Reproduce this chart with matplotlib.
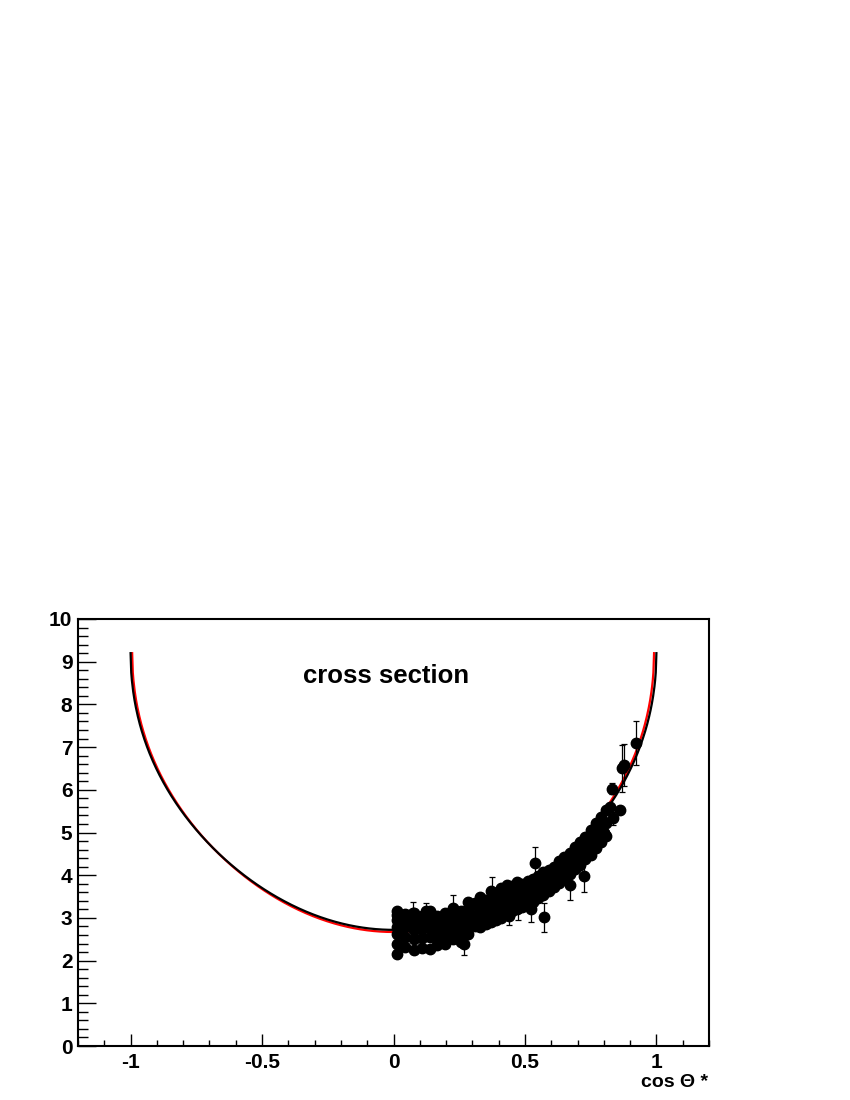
import numpy as np
import matplotlib
matplotlib.use('Agg')
import matplotlib.pyplot as plt
from matplotlib.ticker import MultipleLocator

plt.rcParams['font.family'] = ['Liberation Sans', 'DejaVu Sans']
plt.rcParams['font.weight'] = 'bold'

#theory curves: parameters
top = 9.2          #value at cos = +-1
depth = 6.48       #top minus the value at cos = 0
bulge = 0.6        #small shoulder term
red_shift = -0.05  #red curve sits a bit lower in the middle
red_scale_l = 0.994
red_scale_r = 0.991

#data points: grid part at small cos
grid_x = [0.012, 0.045, 0.078, 0.108, 0.138, 0.165, 0.195, 0.225, 0.255, 0.285]
grid_y = [[3.16, 3.07, 2.95, 2.78, 2.62, 2.38, 2.16],
          [3.10, 2.98, 2.78, 2.55, 2.32],
          [3.12, 2.93, 2.72, 2.50, 2.24],
          [3.05, 2.90, 2.74, 2.53, 2.30],
          [3.17, 2.98, 2.77, 2.55, 2.28],
          [3.05, 2.92, 2.72, 2.52, 2.36],
          [3.12, 2.98, 2.78, 2.58, 2.40],
          [3.24, 3.02, 2.82, 2.62, 2.50],
          [3.15, 3.00, 2.80, 2.62, 2.44],
          [3.38, 3.22, 3.00, 2.85, 2.62]]
grid_err = 0.08

#band part, three rows per column
band_x = [0.31, 0.33, 0.35, 0.37, 0.39, 0.41, 0.43, 0.45, 0.47, 0.49, 0.51, 0.53, 0.55,
          0.57, 0.59, 0.61, 0.63, 0.65, 0.67, 0.69, 0.71, 0.73, 0.75, 0.77, 0.79, 0.81]
band_lo = [2.80, 2.78, 2.86, 2.90, 2.95, 3.00, 3.08, 3.15, 3.20, 3.26, 3.32, 3.38, 3.46,
           3.54, 3.62, 3.72, 3.82, 3.92, 4.02, 4.14, 4.24, 4.38, 4.48, 4.64, 4.78, 4.92]
band_mid = [3.05, 3.10, 3.18, 3.22, 3.26, 3.30, 3.38, 3.43, 3.50, 3.53, 3.58, 3.66, 3.70,
            3.78, 3.86, 3.96, 4.06, 4.16, 4.28, 4.40, 4.50, 4.60, 4.76, 4.90, 5.06, 5.22]
band_hi = [3.36, 3.48, 3.42, 3.64, 3.58, 3.70, 3.78, 3.74, 3.84, 3.80, 3.86, 3.92, 3.98,
           4.08, 4.12, 4.20, 4.33, 4.42, 4.52, 4.66, 4.78, 4.90, 5.06, 5.22, 5.36, 5.52]
#band part, two rows in between the columns above
band2_x = [0.32, 0.34, 0.36, 0.38, 0.40, 0.42, 0.44, 0.46, 0.48, 0.50, 0.52, 0.54, 0.56,
           0.58, 0.60, 0.62, 0.64, 0.66, 0.68, 0.70, 0.72, 0.74, 0.76, 0.78, 0.80]
band2_a = [2.94, 2.97, 3.03, 3.07, 3.12, 3.18, 3.24, 3.30, 3.36, 3.41, 3.47, 3.53, 3.60,
           3.68, 3.78, 3.88, 3.98, 4.10, 4.21, 4.31, 4.43, 4.56, 4.70, 4.85, 5.00]
band2_b = [3.25, 3.30, 3.36, 3.42, 3.47, 3.52, 3.57, 3.63, 3.66, 3.71, 3.76, 3.82, 3.88,
           3.96, 4.04, 4.12, 4.22, 4.32, 4.45, 4.56, 4.66, 4.78, 4.93, 5.08, 5.25]
band_err = 0.08

#points with visible error bars
odd_x = [0.075, 0.122, 0.228, 0.270, 0.375, 0.438, 0.475, 0.524, 0.540, 0.574, 0.673, 0.724,
         0.780, 0.800, 0.825, 0.832, 0.835, 0.863, 0.870, 0.876, 0.924]
odd_y = [3.12, 3.15, 3.20, 2.40, 3.61, 3.05, 3.23, 3.20, 4.29, 3.01, 3.77, 3.97,
         5.20, 4.98, 5.60, 6.03, 5.33, 5.53, 6.50, 6.58, 7.09]
odd_err = [0.26, 0.20, 0.34, 0.27, 0.34, 0.22, 0.28, 0.30, 0.38, 0.34, 0.36, 0.36,
           0.22, 0.15, 0.10, 0.12, 0.15, 0.08, 0.55, 0.50, 0.52]


def curve(x):
	return top - depth*np.sqrt(np.clip(1 - x**2, 0, None)) + bulge*x**2*(1 - x**2)


fig = plt.figure(figsize=(8.5, 11), dpi=100)
ax = fig.add_axes([78/850., 54/1100., (709-78)/850., (1046-619)/1100.])

xs = np.linspace(-1, 1, 801)
#red first, black on top
xr = np.linspace(-red_scale_l, red_scale_r, 801)
xr_scaled = np.where(xr < 0, xr/red_scale_l, xr/red_scale_r)
ax.plot(xr, curve(xr_scaled) + red_shift*(1 - xr_scaled**2), color='red', lw=1.6, zorder=2)
ax.plot(xs, curve(xs), color='black', lw=1.6, zorder=3)

#collect the points
px = []
py = []
pe = []
for i in range(len(grid_x)):
	for v in grid_y[i]:
		px.append(grid_x[i])
		py.append(v)
		pe.append(grid_err)
for i in range(len(band_x)):
	for v in [band_lo[i], band_mid[i], band_hi[i]]:
		px.append(band_x[i])
		py.append(v)
		pe.append(band_err)
for i in range(len(band2_x)):
	for v in [band2_a[i], band2_b[i]]:
		px.append(band2_x[i])
		py.append(v)
		pe.append(band_err)
px = px + odd_x
py = py + odd_y
pe = pe + odd_err

ax.errorbar(px, py, yerr=pe, fmt='o', color='black', ms=7.5, elinewidth=0.9,
			capsize=2.5, capthick=0.9, zorder=4)

ax.text(-0.03, 8.5, 'cross section', fontsize=18.5, fontweight='bold', ha='center', va='baseline')

ax.set_xlim(-1.2, 1.2)
ax.set_ylim(0, 10)
ax.xaxis.set_minor_locator(MultipleLocator(0.1))
ax.yaxis.set_minor_locator(MultipleLocator(0.2))
ax.set_xticks([-1, -0.5, 0, 0.5, 1])
ax.set_xticklabels(['-1', '-0.5', '0', '0.5', '1'])
ax.set_yticks(range(11))
ax.set_yticklabels([str(v) for v in range(11)])

ax.tick_params(which='both', direction='in', top=False, right=False, width=1)
ax.tick_params(axis='y', which='major', length=13, pad=4, labelsize=15)
ax.tick_params(axis='y', which='minor', length=7)
ax.tick_params(axis='x', which='major', length=8.5, pad=5, labelsize=15)
ax.tick_params(axis='x', which='minor', length=4.3)
for lab in ax.get_xticklabels() + ax.get_yticklabels():
	lab.set_fontweight('bold')
for s in ax.spines.values():
	s.set_linewidth(1.5)

fig.text(708/850., 1 - 1087/1100., u'cos \u0398 *', fontsize=14, fontweight='bold', ha='right', va='baseline')

plt.savefig('out.png', dpi=100)
